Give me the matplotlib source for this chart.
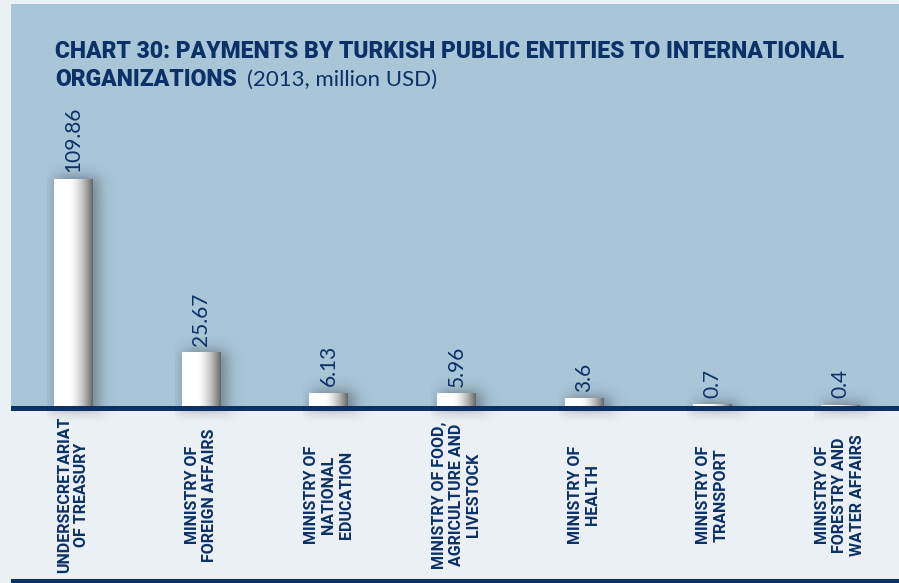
import numpy as np
import matplotlib
matplotlib.use("Agg")
import matplotlib.pyplot as plt
from matplotlib import transforms
from matplotlib.patches import Rectangle

# data
categories = [
    "UNDERSECRETARIAT\nOF TREASURY",
    "MINISTRY OF\nFOREIGN AFFAIRS",
    "MINISTRY OF\nNATIONAL\nEDUCATION",
    "MINISTRY OF FOOD,\nAGRICULTURE AND\nLIVESTOCK",
    "MINISTRY OF\nHEALTH",
    "MINISTRY OF\nTRANSPORT",
    "MINISTRY OF\nFORESTRY AND\nWATER AFFAIRS",
]
payments = [109.86, 25.67, 6.13, 5.96, 3.6, 0.7, 0.4]

title_bold_1 = "CHART 30: PAYMENTS BY TURKISH PUBLIC ENTITIES TO INTERNATIONAL"
title_bold_2 = "ORGANIZATIONS"
title_light = "(2013, million USD)"

navy = "#0b3166"
panel_blue = "#a8c6d8"
page_grey = "#ebf0f5"

W, H = 899, 583
fig = plt.figure(figsize=(W / 100, H / 100), dpi=100, facecolor=page_grey)

# blue panel is the axes: x 11..899 px, y 4..406 px (from top)
ax = fig.add_axes([11 / W, (H - 406) / H, (W - 11) / W, (406 - 4) / H])
ax.set_facecolor(panel_blue)
for s in ax.spines.values():
    s.set_visible(False)
ax.set_xticks([])
ax.set_yticks([])

x = np.arange(len(categories))
bar_w = 0.3


def shadow_alpha(xx, yy, x0, x1, h, sx, sy):
    a_x = 1 / (1 + np.exp(-(xx - x0) / sx)) * 1 / (1 + np.exp((xx - x1) / sx))
    a_y = 1 / (1 + np.exp((yy - h) / sy))
    return a_x * a_y


for xi, v in zip(x, payments):
    x0, x1 = xi - bar_w / 2, xi + bar_w / 2
    # soft shadow on the panel
    ex0, ex1 = x0 - 0.05, x1 + 0.25
    ey1 = v + 8
    xs = np.linspace(ex0, ex1, 120)
    ys = np.linspace(0, ey1, 200)
    XX, YY = np.meshgrid(xs, ys)
    a = shadow_alpha(XX, YY, x0 + 0.02, x1 + 0.05, v + 1, 0.035, 2.0) * 0.45
    img = np.zeros(XX.shape + (4,))
    img[..., :3] = 0.15
    img[..., 3] = a
    ax.imshow(img, extent=(ex0, ex1, 0, ey1), origin="lower", aspect="auto",
              zorder=1, interpolation="bilinear")
    # shadow below the baseline
    ys2 = np.linspace(-9, 0, 40)
    XX2, YY2 = np.meshgrid(xs, ys2)
    a2 = (1 / (1 + np.exp(-(XX2 - x0 + 0.02) / 0.04)) *
          1 / (1 + np.exp((XX2 - x1 - 0.08) / 0.04)) *
          np.clip((YY2 + 9) / 9, 0, 1) ** 2) * 0.35
    img2 = np.zeros(XX2.shape + (4,))
    img2[..., :3] = 0.2
    img2[..., 3] = a2
    ax.imshow(img2, extent=(ex0, ex1, -9, 0), origin="lower", aspect="auto",
              zorder=1, interpolation="bilinear", clip_on=False)
    # bar body, white fading to grey on the right
    t = np.linspace(0, 1, 100)
    shade = np.where(t < 0.4, 1.0, 1.0 - 0.6 * ((t - 0.4) / 0.6) ** 1.6)
    grad = np.tile(shade, (2, 1))
    bar_img = np.dstack([grad, grad, grad])
    ax.imshow(bar_img, extent=(x0, x1, 0, v), origin="lower", aspect="auto",
              zorder=2, interpolation="bilinear")
    ax.annotate(f"{v:g}", (xi, v), xytext=(0, 5), textcoords="offset points",
                rotation=90, ha="center", va="bottom", fontsize=15,
                family=["Lato", "DejaVu Sans"], fontweight="normal", color=navy,
                zorder=5)

ax.set_xlim(-0.485, 6.462)
ax.set_ylim(0, 194.6)

# category labels under the baseline
trans = transforms.blended_transform_factory(ax.transData, fig.transFigure)
for xi, lab in zip(x, categories):
    ax.text(xi, 1 - 495 / H, lab, transform=trans, rotation=90,
            ha="center", va="center", multialignment="center",
            fontsize=11.5, fontweight="bold", color=navy,
            family=["Roboto", "DejaVu Sans"], linespacing=1.2, clip_on=False)

# baseline and bottom rule
fig.add_artist(Rectangle((11 / W, (H - 411) / H), (W - 11) / W, 5 / H,
                         transform=fig.transFigure, color=navy, lw=0))
fig.add_artist(Rectangle((11 / W, 0), (W - 11) / W, 4 / H,
                         transform=fig.transFigure, color=navy, lw=0))

# title
t1 = fig.text(55 / W, 1 - 58 / H, title_bold_1, fontsize=16.5, fontweight="heavy",
              color=navy, family=["Roboto", "DejaVu Sans"], va="baseline")
t2 = fig.text(55 / W, 1 - 86 / H, title_bold_2, fontsize=16.5, fontweight="heavy",
              color=navy, family=["Roboto", "DejaVu Sans"], va="baseline")
fig.canvas.draw()
bb = t2.get_window_extent()
fig.text((bb.x1 + 10) / W, 1 - 86 / H, title_light, fontsize=16,
         fontweight="normal", color=navy, family=["Lato", "DejaVu Sans"],
         va="baseline")

fig.savefig("out.png", dpi=100, facecolor=page_grey)
